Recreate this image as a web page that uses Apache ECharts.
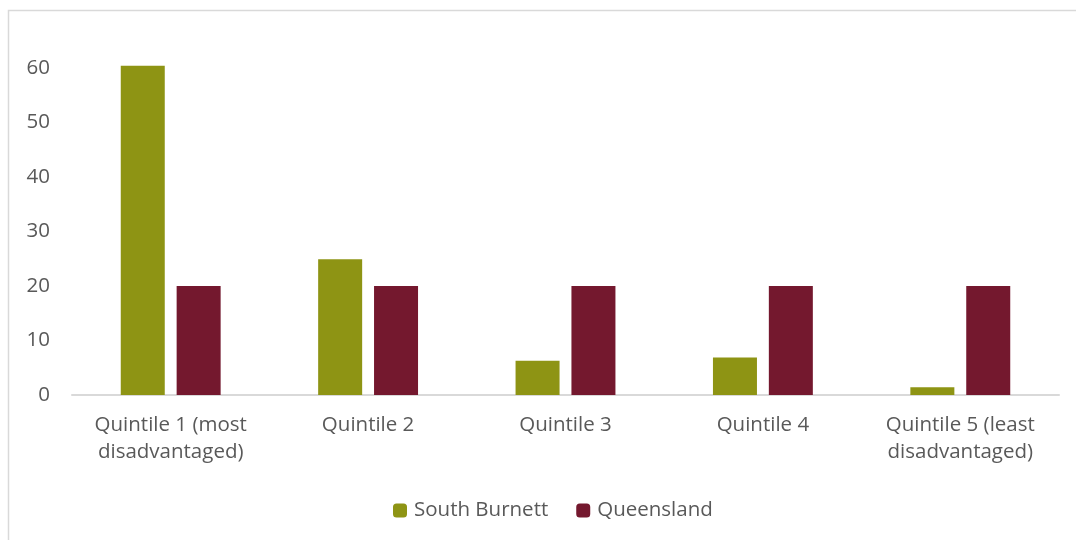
<!DOCTYPE html>
<html>
<head>
<meta charset="utf-8">
<script src="https://cdn.jsdelivr.net/npm/echarts@6/dist/echarts.min.js"></script>
<style>
  html, body { margin: 0; padding: 0; background: #fff; }
  #chart { width: 1076px; height: 540px; }
</style>
</head>
<body>
<div id="chart"></div>
<script>
// Share of population by socio-economic quintile (%)
const categories = [
  'Quintile 1 (most\ndisadvantaged)',
  'Quintile 2',
  'Quintile 3',
  'Quintile 4',
  'Quintile 5 (least\ndisadvantaged)'
];
const southBurnett = [60.4, 24.9, 6.3, 6.9, 1.4];
const queensland = [20, 20, 20, 20, 20];
const yTicks = [0, 10, 20, 30, 40, 50, 60];

const FONT = '"Open Sans", Lato, sans-serif';
const TEXT = '#595959';
const SIZE = 20.5;

const chart = echarts.init(document.getElementById('chart'), null, { renderer: 'canvas' });
chart.setOption({
  animation: false,
  textStyle: { fontFamily: FONT },
  graphic: [{
    type: 'rect',
    shape: { x: 8.5, y: 10.5, width: 1100, height: 600 },
    style: { fill: 'none', stroke: '#D9D9D9', lineWidth: 1.5 },
    silent: true
  }],
  grid: { left: 72, right: 17, top: 13.5, bottom: 145 },
  legend: {
    left: 388,
    top: 495,
    itemWidth: 14,
    itemHeight: 14,
    itemGap: 28,
    textStyle: { color: TEXT, fontSize: SIZE, fontFamily: FONT, padding: [0, 0, 0, 2] },
    data: ['South Burnett', 'Queensland']
  },
  xAxis: {
    type: 'category',
    data: categories,
    axisLine: { lineStyle: { color: '#D9D9D9', width: 2 } },
    axisTick: { show: false },
    axisLabel: {
      color: TEXT, fontSize: SIZE, fontFamily: FONT,
      margin: 17, lineHeight: 27, interval: 0
    }
  },
  yAxis: {
    type: 'value',
    min: 0,
    max: 70,
    interval: 10,
    axisLine: { show: false },
    axisTick: { show: false },
    splitLine: { show: false },
    axisLabel: {
      color: TEXT, fontSize: SIZE, fontFamily: FONT, margin: 22,
      formatter: v => (yTicks.indexOf(v) >= 0 ? String(v) : '')
    }
  },
  series: [
    {
      name: 'South Burnett',
      type: 'bar',
      data: southBurnett,
      barWidth: 44,
      barGap: '27%',
      itemStyle: { color: '#8E9414' }
    },
    {
      name: 'Queensland',
      type: 'bar',
      data: queensland,
      barWidth: 44,
      itemStyle: { color: '#74182E' }
    }
  ]
});
</script>
</body>
</html>
